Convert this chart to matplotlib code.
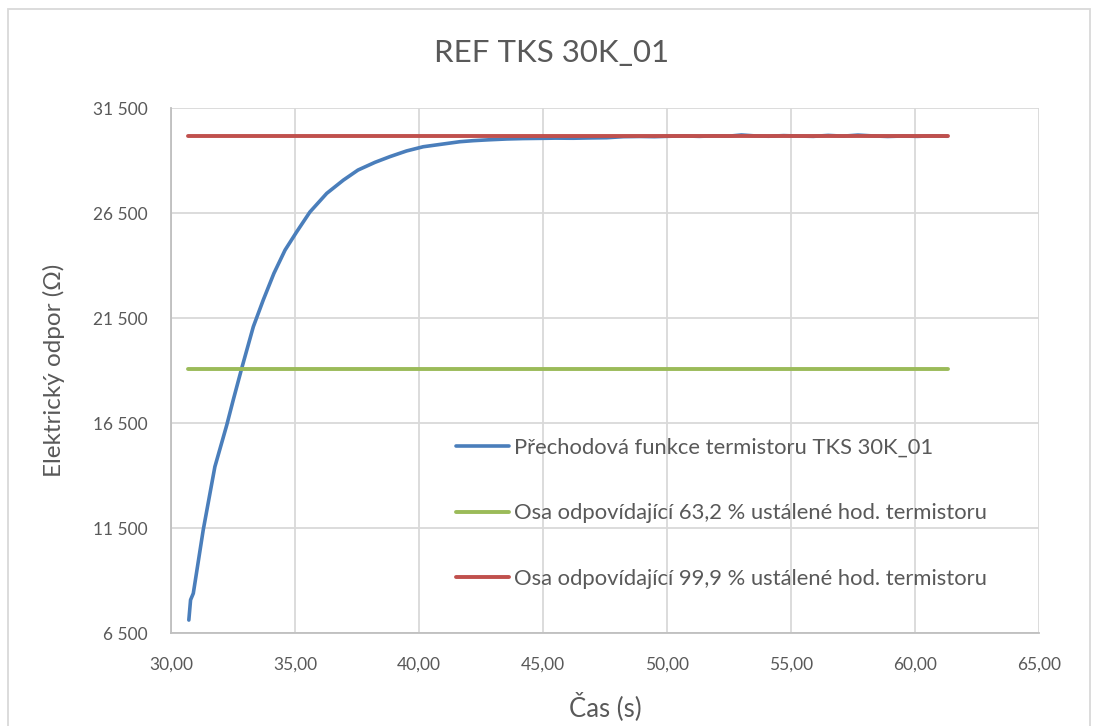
import matplotlib
matplotlib.use("Agg")
import matplotlib.pyplot as plt
from matplotlib.ticker import FuncFormatter
from matplotlib.patches import Rectangle

plt.rcParams['font.family'] = ['Lato', 'DejaVu Sans']

# Measured step response of the thermistor
time_s = [30.72, 30.79, 30.90, 31.30, 31.77, 32.25, 32.51, 32.85, 33.32, 33.72,
          34.15, 34.60, 35.07, 35.60, 36.28, 36.95, 37.54, 38.23, 38.83, 39.50,
          40.17, 40.97, 41.65, 42.19, 42.80, 43.54, 44.20, 44.88, 45.50, 46.22,
          46.90, 47.57, 48.24, 48.90, 49.50, 50.10, 50.70, 51.30, 51.90, 52.50,
          53.00, 53.50, 54.10, 54.70, 55.30, 55.90, 56.50, 57.10, 57.70, 58.30,
          58.90, 59.50, 60.10, 60.70, 61.30]
resistance = [7130, 8090, 8400, 11420, 14430, 16420, 17610, 19110, 21100, 22370,
              23640, 24750, 25620, 26560, 27450, 28080, 28560, 28930, 29200, 29470,
              29670, 29800, 29910, 29960, 30000, 30040, 30060, 30070, 30080, 30075,
              30090, 30100, 30150, 30160, 30150, 30170, 30185, 30165, 30190, 30175,
              30230, 30190, 30170, 30200, 30180, 30165, 30210, 30175, 30225, 30185,
              30160, 30180, 30165, 30190, 30170]

# Reference levels (63.2 % and 99.9 % of the steady-state value)
level_632 = 19090
level_999 = 30180
level_span = [30.69, 61.33]

labels = ["Přechodová funkce termistoru TKS 30K_01",
          "Osa odpovídající 63,2 % ustálené hod. termistoru",
          "Osa odpovídající 99,9 % ustálené hod. termistoru"]

x_ticks = [30, 35, 40, 45, 50, 55, 60, 65]
y_ticks = [6500, 11500, 16500, 21500, 26500, 31500]

text_color = "#595959"
grid_color = "#d9d9d9"

fig = plt.figure(figsize=(10.96, 7.26), dpi=100)
ax = fig.add_axes([0.156, 0.1277, 0.792, 0.7231])

ax.plot(time_s, resistance, color="#4a7ebb", lw=2.6, label=labels[0], zorder=3,
        solid_joinstyle="round", solid_capstyle="round")
ax.plot(level_span, [level_632, level_632], color="#9bbb59", lw=2.8,
        label=labels[1], zorder=3, solid_capstyle="round")
ax.plot(level_span, [level_999, level_999], color="#c0504d", lw=2.8,
        label=labels[2], zorder=4, solid_capstyle="round")

ax.set_xlim(x_ticks[0], x_ticks[-1])
ax.set_ylim(y_ticks[0], y_ticks[-1])
ax.set_xticks(x_ticks)
ax.set_yticks(y_ticks)
ax.xaxis.set_major_formatter(FuncFormatter(lambda v, p: f"{v:.2f}".replace(".", ",")))
ax.yaxis.set_major_formatter(FuncFormatter(lambda v, p: f"{int(v):,}".replace(",", " ")))

ax.grid(True, color=grid_color, lw=1.3, zorder=0)
ax.set_axisbelow(True)
for s in ["top", "right"]:
    ax.spines[s].set_visible(False)
for s in ["left", "bottom"]:
    ax.spines[s].set_color("#bfbfbf")
    ax.spines[s].set_linewidth(1.3)
ax.tick_params(axis="y", length=0, labelsize=12.5, labelcolor=text_color, pad=17)
ax.tick_params(axis="x", length=0, labelsize=12.5, labelcolor=text_color, pad=17)

ax.set_xlabel("Čas (s)", fontsize=18.5, color=text_color)
ax.set_ylabel("Elektrický odpor (Ω)", fontsize=17.5, color=text_color)
ax.xaxis.set_label_coords(0.5, -0.112)
ax.yaxis.set_label_coords(-0.122, 0.5)

fig.text(552 / 1096, 1 - 53 / 726, "REF TKS 30K_01", fontsize=22.5,
         color=text_color, ha="center", va="center")

ax.legend(loc="upper left", bbox_to_anchor=(0.306, 0.41), frameon=False,
          fontsize=15.8, handlelength=2.42, handletextpad=0.23,
          labelspacing=2.08, labelcolor=text_color)

# Outer chart frame
fig.patches.append(Rectangle((8 / 1096, -0.1), 1082 / 1096, 1.1 - 9 / 726,
                             transform=fig.transFigure, fill=False,
                             edgecolor=grid_color, lw=1.3))

fig.savefig("out.png", dpi=100, facecolor="white")
